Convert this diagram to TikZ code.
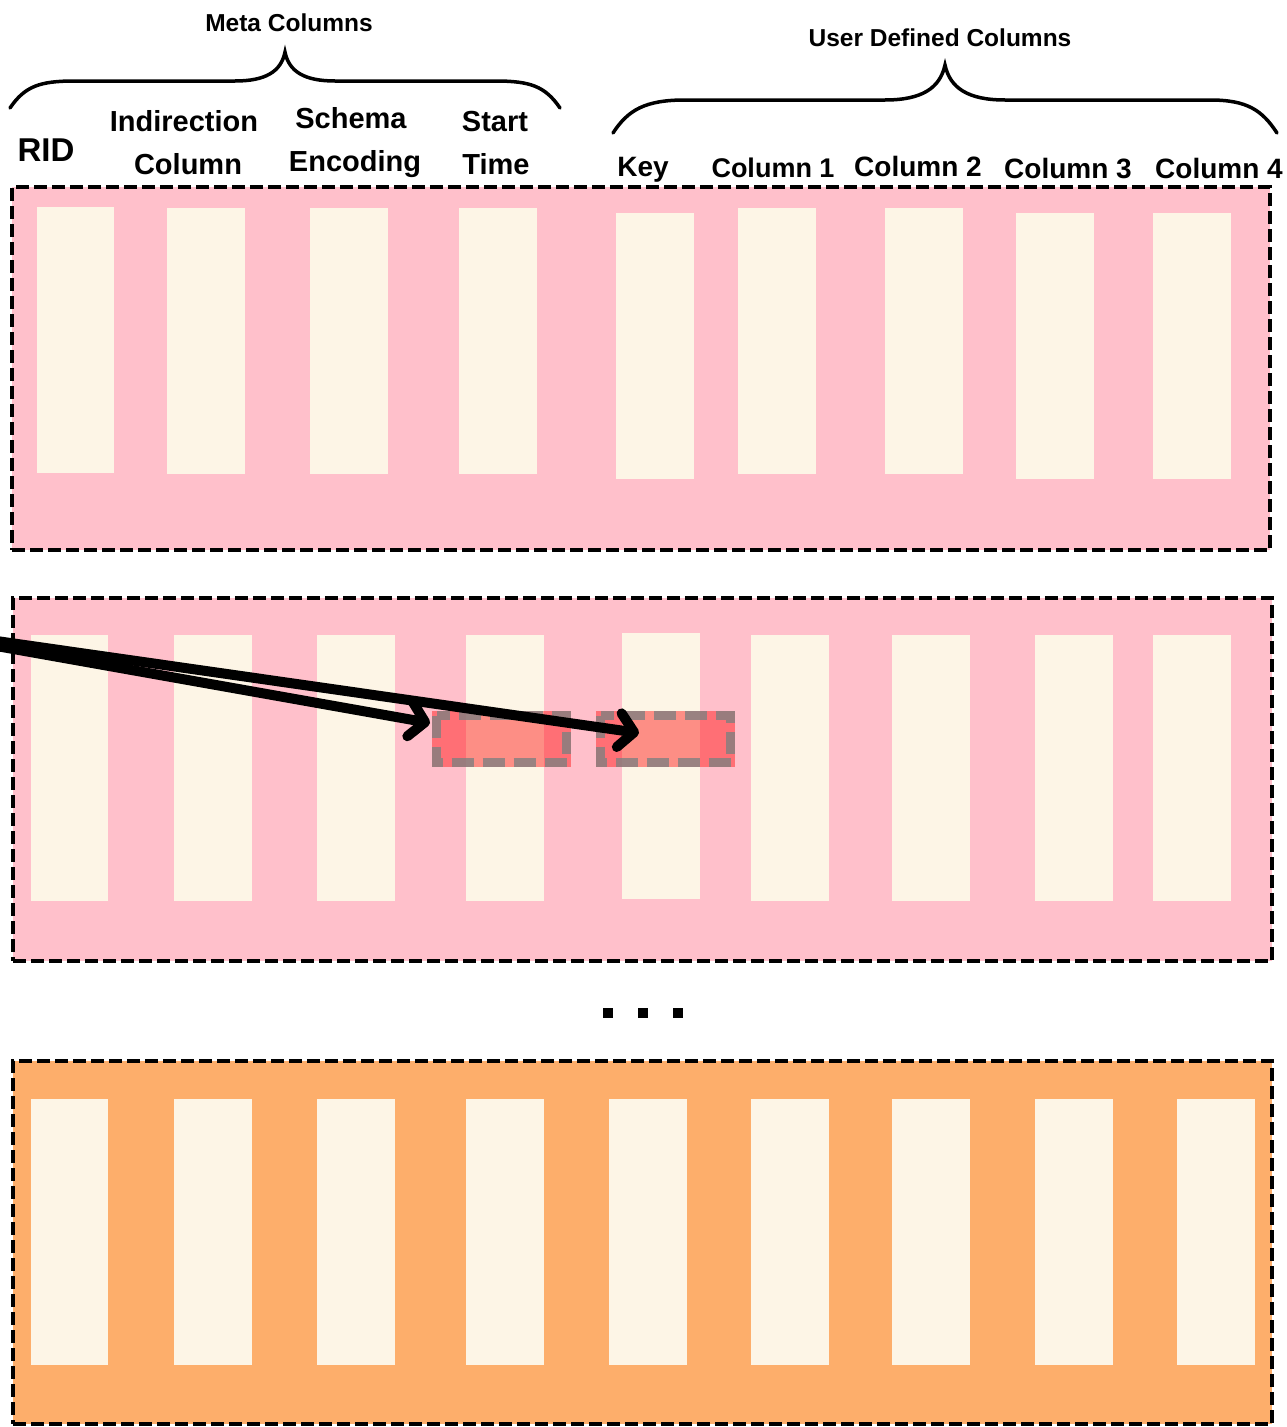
\documentclass[tikz,border=0pt]{standalone}
\usepackage{fontspec}
\setmainfont{Liberation Sans}
\usetikzlibrary{arrows.meta,calc}
\definecolor{pinkbg}{RGB}{255,192,203}
\definecolor{orangebg}{RGB}{253,174,107}
\definecolor{cream}{RGB}{253,245,230}
\begin{document}
\begin{tikzpicture}[x=1pt,y=-1pt,
  zone/.style={draw=black, line width=3.6pt, dash pattern=on 13pt off 5pt, inner sep=0pt, outer sep=0pt, anchor=north west, minimum width=1259pt, minimum height=363pt},
  colbox/.style={fill=cream, inner sep=0pt, outer sep=0pt, anchor=north west, minimum width=78pt, minimum height=266pt},
  hit/.style={fill=red, fill opacity=0.42, inner sep=0pt, outer sep=0pt, anchor=north west, minimum width=139pt, minimum height=56pt},
  hitborder/.style={draw=gray, draw opacity=0.8, line width=9pt, dash pattern=on 22pt off 9pt},
  lbl/.style={font=\fontsize{29}{34}\selectfont\bfseries, anchor=base, inner sep=0pt},
  grp/.style={font=\fontsize{24.5}{29}\selectfont\bfseries, anchor=base, inner sep=0pt},
  brace/.style={line width=3.5pt, line cap=round},
  ptr/.style={line width=10pt, line cap=round, -{Straight Barb[length=15pt,width=34pt,round]}},
  dotsq/.style={fill=black, minimum size=10pt, inner sep=0pt, outer sep=0pt}]
\useasboundingbox (0,0) rectangle (1286,1427);
\clip (0,0) rectangle (1286,1427);
\fill[white] (0,0) rectangle (1286,1427);

% header labels
\node[grp] (meta) at (289,31) {Meta Columns};
\node[grp] (user) at (940,46) {User Defined Columns};
\node[lbl, font=\fontsize{33}{38}\selectfont\bfseries] (rid) at (46,161.5) {RID};
\node[lbl] (ind1) at (184,131) {Indirection};
\node[lbl] (ind2) at (188,174) {Column};
\node[lbl] (sch1) at (351,128) {Schema};
\node[lbl] (sch2) at (355,171) {Encoding};
\node[lbl] (st1) at (495,131) {Start};
\node[lbl] (st2) at (496,174) {Time};
\node[lbl, font=\fontsize{28}{33}\selectfont\bfseries] (key) at (643,176) {Key};
\node[lbl, font=\fontsize{27}{33}\selectfont\bfseries] (c1) at (773,177) {Column 1};
\node[lbl, font=\fontsize{28}{33}\selectfont\bfseries] (c2) at (918,176) {Column 2};
\node[lbl, font=\fontsize{28}{33}\selectfont\bfseries] (c3) at (1068,178) {Column 3};
\node[lbl, font=\fontsize{28}{33}\selectfont\bfseries] (c4) at (1219,178) {Column 4};

% braces
\draw[brace] (10,108) .. controls (25,86) and (40,81) .. (75,81) -- (235,81)
  .. controls (265,81) and (281,72) .. (285,52)
  .. controls (289,72) and (305,81) .. (335,81) -- (495,81)
  .. controls (530,81) and (545,86) .. (560,108);
\draw[brace] (613,133) .. controls (628,110) and (645,100) .. (685,100) -- (885,100)
  .. controls (922,100) and (940,88) .. (945,65)
  .. controls (950,88) and (968,100) .. (1005,100) -- (1210,100)
  .. controls (1247,100) and (1262,110) .. (1277,133);

% zone 1
\node[zone, fill=pinkbg, minimum width=1258pt] (z1) at (12,187) {};
\node[colbox, minimum width=77pt] (a1) at (37,207) {};
\node[colbox] (a2) at (167,208) {};
\node[colbox] (a3) at (310,208) {};
\node[colbox] (a4) at (459,208) {};
\node[colbox] (a5) at (616,213) {};
\node[colbox] (a6) at (738,208) {};
\node[colbox] (a7) at (885,208) {};
\node[colbox] (a8) at (1016,213) {};
\node[colbox] (a9) at (1153,213) {};

% zone 2
\node[zone, fill=pinkbg] (z2) at (13,598) {};
\node[colbox, minimum width=77pt] (b1) at (31,635) {};
\node[colbox] (b2) at (174,635) {};
\node[colbox] (b3) at (317,635) {};
\node[colbox] (b4) at (466,635) {};
\node[colbox] (b5) at (622,633) {};
\node[colbox] (b6) at (751,635) {};
\node[colbox] (b7) at (892,635) {};
\node[colbox] (b8) at (1035,635) {};
\node[colbox] (b9) at (1153,635) {};

% highlighted cells
\node[hit] (r1) at (432,711) {};
\node[hit] (r2) at (596,711) {};
\draw[hitborder] ($(r1.north west)+(4.5,4.5)$) rectangle ($(r1.south east)+(-4.5,-4.5)$);
\draw[hitborder] ($(r2.north west)+(4.5,4.5)$) rectangle ($(r2.south east)+(-4.5,-4.5)$);

% ellipsis
\node[dotsq] (d1) at (608,1013) {};
\node[dotsq] (d2) at (643,1013) {};
\node[dotsq] (d3) at (678,1013) {};

% zone 3
\node[zone, fill=orangebg] (z3) at (13,1061) {};
\node[colbox, minimum width=77pt] (e1) at (31,1099) {};
\node[colbox] (e2) at (174,1099) {};
\node[colbox] (e3) at (317,1099) {};
\node[colbox] (e4) at (466,1099) {};
\node[colbox] (e5) at (609,1099) {};
\node[colbox] (e6) at (751,1099) {};
\node[colbox] (e7) at (892,1099) {};
\node[colbox] (e8) at (1035,1099) {};
\node[colbox] (e9) at (1177,1099) {};

% pointers
\coordinate (src) at (-150,620);
\coordinate (t1) at (430,723);
\coordinate (t2) at (639,733);
\draw[ptr] (src) -- (t1);
\draw[ptr] (src) -- (t2);
\end{tikzpicture}
\end{document}
